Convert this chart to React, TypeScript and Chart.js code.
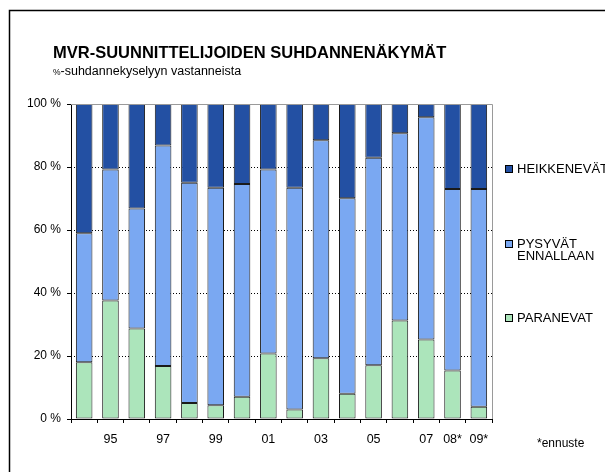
import React, { useEffect, useRef } from "react";
import { Chart, registerables } from "chart.js";

Chart.register(...registerables);

const years = ["94", "95", "96", "97", "98", "99", "00", "01", "02", "03", "04", "05", "06", "07", "08*", "09*"];
const tickLabels = ["", "95", "", "97", "", "99", "", "01", "", "03", "", "05", "", "07", "08*", "09*"];
const paranevat = [18.0, 37.6, 28.7, 16.8, 5.1, 4.4, 7.1, 20.8, 3.0, 19.3, 8.0, 17.1, 31.3, 25.2, 15.4, 3.9];
const pysyvat = [41.0, 41.6, 38.1, 70.0, 69.9, 69.0, 67.5, 58.4, 70.4, 69.2, 62.1, 65.8, 59.4, 70.6, 57.6, 69.1];
const heikkenevat = [41.0, 20.8, 33.2, 13.2, 25.0, 26.6, 25.4, 20.8, 26.6, 11.5, 29.9, 17.1, 9.3, 4.2, 27.0, 27.0];
const yTicks = [0, 20, 40, 60, 80, 100];

const title = "MVR-SUUNNITTELIJOIDEN SUHDANNENÄKYMÄT";
const subtitlePct = "%";
const subtitleRest = "-suhdannekyselyyn vastanneista";
const footnote = "*ennuste";

const legendItems = [
  { lines: ["HEIKKENEVÄT"], ds: 2, y: 169 },
  { lines: ["PYSYVÄT", "ENNALLAAN"], ds: 1, y: 244 },
  { lines: ["PARANEVAT"], ds: 0, y: 318 },
];

const FONT = "'Liberation Sans', Arial, sans-serif";

const decorPlugin = {
  id: "decor",
  beforeDatasetsDraw(chart: any) {
    const { ctx, chartArea, scales } = chart;
    const y = scales.y;
    ctx.save();
    ctx.strokeStyle = "#000";
    ctx.lineWidth = 1;
    ctx.setLineDash([1, 2]);
    for (const v of yTicks) {
      if (v === 0 || v === 100) continue;
      const py = Math.round(y.getPixelForValue(v)) + 0.5;
      ctx.beginPath();
      ctx.moveTo(chartArea.left, py);
      ctx.lineTo(chartArea.right, py);
      ctx.stroke();
    }
    ctx.restore();
  },
  afterDraw(chart: any) {
    const { ctx, chartArea, scales } = chart;
    ctx.save();
    // plot area grey top/right border
    ctx.strokeStyle = "#9a9a9a";
    ctx.lineWidth = 1;
    const top = Math.round(scales.y.getPixelForValue(100)) + 0.5;
    const right = Math.round(chartArea.right) + 0.5;
    ctx.beginPath();
    ctx.moveTo(chartArea.left, top);
    ctx.lineTo(right, top);
    ctx.lineTo(right, chartArea.bottom);
    ctx.stroke();

    // outer frame
    ctx.strokeStyle = "#000";
    ctx.lineWidth = 1.5;
    ctx.strokeRect(9.5, 10.5, 700, 600);

    // title
    ctx.fillStyle = "#000";
    ctx.textBaseline = "alphabetic";
    ctx.textAlign = "left";
    ctx.font = `bold 16.5px ${FONT}`;
    ctx.fillText(title, 53, 58);
    ctx.font = `8.5px ${FONT}`;
    ctx.fillText(subtitlePct, 53, 75);
    const w = ctx.measureText(subtitlePct).width;
    ctx.font = `12.5px ${FONT}`;
    ctx.fillText(subtitleRest, 53 + w, 75);

    // legend
    ctx.textBaseline = "middle";
    ctx.font = `13px ${FONT}`;
    for (const item of legendItems) {
      const ds = chart.data.datasets[item.ds];
      ctx.fillStyle = ds.backgroundColor;
      ctx.fillRect(505, item.y - 4, 8, 8);
      ctx.strokeStyle = "#000";
      ctx.lineWidth = 1;
      ctx.strokeRect(505.5, item.y - 3.5, 7, 7);
      ctx.fillStyle = "#000";
      item.lines.forEach((l, i) => ctx.fillText(l, 517, item.y + i * 12));
    }

    // footnote
    ctx.font = `12px ${FONT}`;
    ctx.fillText(footnote, 537, 444);
    ctx.restore();
  },
};

export default function App() {
  const ref = useRef<HTMLCanvasElement>(null);
  useEffect(() => {
    if (!ref.current) return;
    const common = {
      borderColor: "#1a1a1a",
      borderWidth: 1,
      borderSkipped: false,
      barPercentage: 0.63,
      categoryPercentage: 1,
    };
    const chart = new Chart(ref.current, {
      type: "bar",
      data: {
        labels: years,
        datasets: [
          { label: "PARANEVAT", data: paranevat, backgroundColor: "#ace5bb", ...common },
          { label: "PYSYVÄT ENNALLAAN", data: pysyvat, backgroundColor: "#7aa8f2", ...common },
          { label: "HEIKKENEVÄT", data: heikkenevat, backgroundColor: "#2350a3", ...common },
        ],
      } as any,
      options: {
        responsive: false,
        animation: false,
        devicePixelRatio: 1,
        layout: { padding: { left: 0, right: 113, top: 104, bottom: 23 } },
        plugins: { legend: { display: false }, tooltip: { enabled: false }, title: { display: false } },
        scales: {
          x: {
            stacked: true,
            grid: { offset: true, drawOnChartArea: false, drawTicks: true, tickLength: 4, color: "#000" },
            border: { display: true, color: "#000", width: 1 },
            ticks: {
              autoSkip: false,
              maxRotation: 0,
              padding: 9,
              color: "#000",
              font: { family: FONT, size: 12.5 },
              callback: (_v: any, i: number) => tickLabels[i],
            },
            afterFit: (s: any) => { s.height = 30; },
          },
          y: {
            stacked: true,
            min: 0,
            max: 100,
            grid: { drawOnChartArea: false, drawTicks: true, tickLength: 4, color: "#000" },
            border: { display: true, color: "#000", width: 1 },
            ticks: {
              stepSize: 20,
              padding: 6,
              color: "#000",
              font: { family: FONT, size: 12 },
              callback: (v: any) => `${v} %`,
            },
            afterFit: (s: any) => { s.width = 71; },
          },
        },
      } as any,
      plugins: [decorPlugin],
    });
    return () => chart.destroy();
  }, []);
  return (
    <div style={{ position: "fixed", left: 0, top: 0, width: 605, height: 472, background: "#fff" }}>
      <canvas ref={ref} width={605} height={472} style={{ width: 605, height: 472, display: "block" }} />
    </div>
  );
}
